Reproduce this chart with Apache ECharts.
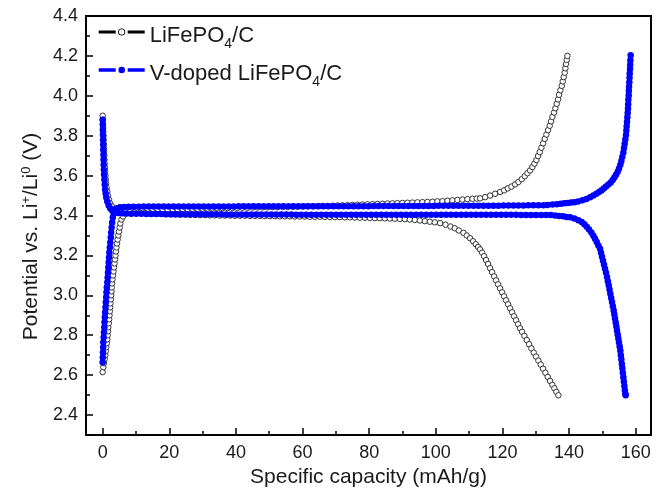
<!DOCTYPE html>
<html><head><meta charset="utf-8">
<script src="https://cdn.jsdelivr.net/npm/echarts@6/dist/echarts.min.js"></script>
<style>html,body{margin:0;padding:0;background:#fff}#c{width:666px;height:492px}</style>
</head><body><div id="c"></div>
<script>
const xMajorTicks = [0, 20, 40, 60, 80, 100, 120, 140, 160];
const xMinorTicks = [10, 30, 50, 70, 90, 110, 130, 150];
const yMajorTicks = [2.4, 2.6, 2.8, 3.0, 3.2, 3.4, 3.6, 3.8, 4.0, 4.2, 4.4];
const yMinorTicks = [2.5, 2.7, 2.9, 3.1, 3.3, 3.5, 3.7, 3.9, 4.1, 4.3];
const seriesNames = ['LiFePO4/C', 'V-doped LiFePO4/C'];

// LiFePO4/C charge branch [capacity, potential]
const lfpCharge = [
[0.0,2.615],[0.2,2.64],[0.4,2.66],[0.6,2.68],[0.8,2.70],[0.95,2.72],[1.1,2.74],[1.25,2.76],[1.4,2.78],[1.5,2.80],
[1.6,2.82],[1.7,2.84],[1.85,2.86],[1.95,2.88],[2.05,2.90],[2.15,2.92],[2.25,2.94],[2.35,2.96],[2.45,2.98],[2.55,3.00],
[2.65,3.02],[2.72,3.04],[2.8,3.06],[2.95,3.08],[3.1,3.10],[3.25,3.12],[3.4,3.14],[3.55,3.16],[3.7,3.18],[3.85,3.20],
[4.0,3.22],[4.15,3.24],[4.3,3.26],[4.5,3.28],[4.7,3.30],[4.9,3.32],[5.1,3.34],[5.3,3.36],[5.65,3.38],[6.1,3.395],
[6.7,3.41],[7.6,3.42],
[9.0,3.424],[10.5,3.426],[12.0,3.427],[13.5,3.428],[15.0,3.429],[16.5,3.430],[18.0,3.430],[19.5,3.431],[21.0,3.432],[22.5,3.432],
[24.0,3.433],[25.5,3.433],[27.0,3.434],[28.5,3.434],[30.0,3.435],[31.5,3.435],[33.0,3.436],[34.5,3.436],[36.0,3.437],[37.5,3.437],
[39.0,3.438],[40.5,3.438],[42.0,3.439],[43.5,3.439],[45.0,3.440],[46.5,3.440],[48.0,3.441],[49.5,3.441],[51.0,3.442],[52.5,3.442],
[54.0,3.443],[55.5,3.443],[57.0,3.444],[58.5,3.444],[60.0,3.445],[61.5,3.446],[63.0,3.446],[64.5,3.447],[66.0,3.448],[67.5,3.448],
[69.0,3.449],[70.5,3.450],[72.0,3.451],[73.5,3.452],[75.0,3.453],[76.5,3.454],[78.0,3.455],[79.5,3.456],[81.0,3.457],[82.5,3.458],
[84.0,3.459],[85.5,3.460],[87.0,3.461],[88.5,3.462],[90.0,3.463],[91.5,3.464],[93.0,3.465],[94.5,3.466],[96.0,3.467],[97.5,3.468],
[99.0,3.469],[100.5,3.471],[102.0,3.472],[103.5,3.474],[105.0,3.476],[106.5,3.478],[108.0,3.480],[109.5,3.482],[111.0,3.484],[112.3,3.485],
[113.3,3.486],[114.8,3.492],[116.3,3.500],[117.8,3.509],[119.3,3.518],[120.5,3.526],[121.6,3.536],[122.7,3.545],[123.8,3.556],[124.8,3.568],
[125.8,3.582],[126.7,3.597],[127.5,3.612],[128.3,3.626],[129.0,3.643],[129.6,3.660],[130.2,3.678],[130.7,3.698],[131.2,3.718],[131.7,3.740],
[132.2,3.762],[132.7,3.784],[133.2,3.806],[133.7,3.828],[134.2,3.850],[134.6,3.872],[135.0,3.894],[135.5,3.916],[135.9,3.938],[136.3,3.960],
[136.7,3.982],[137.0,4.005],[137.4,4.028],[137.8,4.050],[138.1,4.072],[138.4,4.094],[138.7,4.116],[138.9,4.138],[139.1,4.160],[139.3,4.180],
[139.5,4.200]
];

// LiFePO4/C discharge branch
const lfpDischarge = [
[0.0,3.90],[0.05,3.88],[0.1,3.86],[0.15,3.84],[0.2,3.82],[0.25,3.80],[0.3,3.78],[0.35,3.76],[0.4,3.74],[0.45,3.72],
[0.5,3.70],[0.55,3.68],[0.6,3.66],[0.7,3.64],[0.75,3.62],[0.85,3.60],[0.95,3.58],[1.05,3.56],[1.2,3.54],[1.4,3.52],
[1.6,3.50],[1.9,3.48],[2.3,3.46],[2.8,3.445],[3.5,3.432],[4.4,3.424],[5.5,3.420],[6.8,3.418],[8.2,3.417],
[9.7,3.415],[11.2,3.414],[12.7,3.413],[14.2,3.411],[15.7,3.410],[17.2,3.409],[18.7,3.407],[20.2,3.406],[21.7,3.405],[23.2,3.404],
[24.7,3.404],[26.2,3.403],[27.7,3.403],[29.2,3.402],[30.7,3.402],[32.2,3.401],[33.7,3.401],[35.2,3.400],[36.7,3.400],[38.2,3.400],
[39.7,3.399],[41.2,3.399],[42.7,3.399],[44.2,3.398],[45.7,3.398],[47.2,3.398],[48.7,3.397],[50.2,3.397],[51.7,3.397],[53.2,3.396],
[54.7,3.396],[56.2,3.396],[57.7,3.395],[59.2,3.395],[60.7,3.395],[62.2,3.394],[63.7,3.394],[65.2,3.394],[66.7,3.393],[68.2,3.393],
[69.7,3.392],[71.2,3.392],[72.7,3.391],[74.2,3.391],[75.7,3.390],[77.2,3.389],[78.7,3.389],[80.2,3.388],[81.7,3.387],[83.2,3.387],
[84.7,3.386],[86.2,3.385],[87.7,3.384],[89.2,3.383],[90.7,3.382],[92.2,3.380],[93.7,3.378],[95.2,3.375],[96.7,3.372],[98.2,3.369],
[99.7,3.366],[101.3,3.362],[102.9,3.354],[104.4,3.345],[105.7,3.336],[106.9,3.325],[108.3,3.313],[109.3,3.300],[110.3,3.286],[111.2,3.271],
[112.0,3.256],[112.7,3.242],[113.3,3.230],[113.9,3.214],[114.5,3.196],[115.1,3.177],[115.7,3.157],[116.3,3.136],[116.9,3.116],[117.5,3.095],
[118.1,3.075],[118.7,3.055],[119.3,3.035],[119.9,3.015],[120.5,2.995],[121.1,2.975],[121.7,2.955],[122.3,2.935],[122.9,2.915],[123.5,2.895],
[124.1,2.875],[124.7,2.855],[125.3,2.835],[125.9,2.817],[126.6,2.797],[127.3,2.776],[128.0,2.755],[128.7,2.734],[129.4,2.713],[130.1,2.693],
[130.8,2.673],[131.5,2.653],[132.2,2.632],[132.9,2.612],[133.6,2.591],[134.3,2.571],[135.0,2.551],[135.6,2.534],[136.2,2.516],[136.8,2.499]
];

// V-doped LiFePO4/C charge branch
const vCharge = [
[0.0,2.665],[0.05,2.69],[0.1,2.715],[0.15,2.74],[0.2,2.765],[0.3,2.79],[0.4,2.815],[0.5,2.84],[0.55,2.865],[0.65,2.89],
[0.75,2.915],[0.85,2.94],[0.95,2.965],[1.05,2.99],[1.15,3.015],[1.25,3.04],[1.4,3.065],[1.5,3.09],[1.6,3.115],[1.7,3.14],
[1.8,3.165],[1.9,3.19],[2.0,3.215],[2.15,3.24],[2.3,3.265],[2.45,3.29],[2.55,3.315],[2.7,3.34],[2.85,3.365],[3.05,3.39],
[3.3,3.41],[3.7,3.428],[4.3,3.437],[5.2,3.441],[6.4,3.443],[7.8,3.444],
[9.3,3.444],[10.8,3.444],[12.3,3.445],[13.8,3.445],[15.3,3.445],[16.8,3.445],[18.3,3.445],[19.8,3.445],[21.3,3.445],[22.8,3.445],
[24.3,3.445],[25.8,3.445],[27.3,3.445],[28.8,3.445],[30.3,3.445],[31.8,3.445],[33.3,3.445],[34.8,3.445],[36.3,3.445],[37.8,3.445],
[39.3,3.445],[40.8,3.446],[42.3,3.446],[43.8,3.446],[45.3,3.446],[46.8,3.446],[48.3,3.446],[49.8,3.446],[51.3,3.446],[52.8,3.446],
[54.3,3.446],[55.8,3.446],[57.3,3.446],[58.8,3.446],[60.3,3.447],[61.8,3.447],[63.3,3.447],[64.8,3.447],[66.3,3.447],[67.8,3.447],
[69.3,3.447],[70.8,3.447],[72.3,3.447],[73.8,3.447],[75.3,3.447],[76.8,3.447],[78.3,3.447],[79.8,3.447],[81.3,3.448],[82.8,3.448],
[84.3,3.448],[85.8,3.448],[87.3,3.448],[88.8,3.448],[90.3,3.448],[91.8,3.448],[93.3,3.448],[94.8,3.448],[96.3,3.448],[97.8,3.448],
[99.3,3.448],[100.8,3.449],[102.3,3.449],[103.8,3.449],[105.3,3.449],[106.8,3.449],[108.3,3.449],[109.8,3.449],[111.3,3.449],[112.8,3.449],
[114.3,3.449],[115.8,3.449],[117.3,3.449],[118.8,3.449],[120.3,3.450],[121.8,3.450],[123.3,3.450],[124.8,3.450],[126.3,3.450],[127.8,3.451],
[129.3,3.451],[130.8,3.452],[132.3,3.452],[133.5,3.453],[135.0,3.455],[136.3,3.457],[137.5,3.459],[138.6,3.461],[139.6,3.463],[140.6,3.465],
[141.6,3.467],[142.7,3.470],[144.0,3.476],[145.2,3.483],[146.3,3.491],[147.3,3.500],[148.2,3.509],[149.0,3.518],[149.7,3.526],[150.4,3.535],
[151.1,3.545],[151.8,3.555],[152.5,3.566],[153.1,3.578],[153.6,3.590],[154.1,3.604],[154.6,3.620],[155.0,3.636],[155.4,3.654],[155.7,3.673],
[156.0,3.694],[156.3,3.716],[156.5,3.738],[156.7,3.760],[156.9,3.782],[157.1,3.804],[157.2,3.826],[157.3,3.848],[157.4,3.870],[157.5,3.892],
[157.6,3.914],[157.7,3.936],[157.75,3.958],[157.8,3.980],[157.9,4.002],[157.95,4.024],[158.0,4.046],[158.1,4.068],[158.15,4.090],[158.2,4.112],
[158.3,4.134],[158.35,4.156],[158.4,4.178],[158.5,4.203]
];

// V-doped LiFePO4/C discharge branch
const vDischarge = [
[0.0,3.88],[0.03,3.855],[0.06,3.83],[0.09,3.805],[0.12,3.78],[0.15,3.755],[0.18,3.73],[0.22,3.705],[0.26,3.68],[0.3,3.655],
[0.36,3.63],[0.43,3.605],[0.52,3.58],[0.62,3.555],[0.75,3.53],[0.9,3.51],[1.1,3.49],[1.4,3.47],[1.8,3.45],[2.3,3.435],
[2.9,3.424],[3.7,3.417],[4.7,3.413],[5.9,3.411],[7.2,3.410],[8.6,3.409],
[10.1,3.409],[11.6,3.409],[13.1,3.408],[14.6,3.408],[16.1,3.408],[17.6,3.408],[19.1,3.407],[20.6,3.407],[22.1,3.407],[23.6,3.407],
[25.1,3.407],[26.6,3.406],[28.1,3.406],[29.6,3.406],[31.1,3.406],[32.6,3.406],[34.1,3.406],[35.6,3.406],[37.1,3.405],[38.6,3.405],
[40.1,3.405],[41.6,3.405],[43.1,3.405],[44.6,3.405],[46.1,3.405],[47.6,3.405],[49.1,3.405],[50.6,3.405],[52.1,3.405],[53.6,3.405],
[55.1,3.405],[56.6,3.405],[58.1,3.404],[59.6,3.404],[61.1,3.404],[62.6,3.404],[64.1,3.404],[65.6,3.404],[67.1,3.404],[68.6,3.404],
[70.1,3.404],[71.6,3.404],[73.1,3.404],[74.6,3.404],[76.1,3.404],[77.6,3.404],[79.1,3.404],[80.6,3.404],[82.1,3.404],[83.6,3.404],
[85.1,3.404],[86.6,3.404],[88.1,3.404],[89.6,3.404],[91.1,3.404],[92.6,3.404],[94.1,3.404],[95.6,3.404],[97.1,3.404],[98.6,3.404],
[100.1,3.404],[101.6,3.404],[103.1,3.404],[104.6,3.404],[106.1,3.404],[107.6,3.404],[109.1,3.404],[110.6,3.404],[112.1,3.404],[113.6,3.404],
[115.1,3.404],[116.6,3.404],[118.1,3.404],[119.6,3.404],[121.1,3.404],[122.6,3.404],[124.1,3.404],[125.6,3.403],[127.1,3.403],[128.6,3.403],
[130.1,3.403],[131.6,3.403],[133.1,3.403],[134.5,3.402],[135.8,3.400],[137.0,3.398],[138.2,3.396],[139.3,3.393],[140.3,3.391],[141.6,3.385],
[142.8,3.376],[143.8,3.367],[144.6,3.356],[145.3,3.344],[146.0,3.330],[146.7,3.315],[147.3,3.299],[147.8,3.284],[148.3,3.267],[148.8,3.250],
[149.3,3.233],[149.6,3.213],[149.9,3.193],[150.2,3.173],[150.5,3.153],[150.8,3.133],[151.1,3.113],[151.4,3.092],[151.65,3.071],[151.9,3.050],
[152.15,3.029],[152.4,3.008],[152.65,2.987],[152.9,2.966],[153.15,2.945],[153.4,2.924],[153.6,2.904],[153.8,2.884],[154.0,2.864],[154.2,2.844],
[154.4,2.824],[154.6,2.804],[154.8,2.784],[155.0,2.764],[155.2,2.744],[155.4,2.722],[155.55,2.700],[155.7,2.678],[155.85,2.656],[156.0,2.634],
[156.15,2.612],[156.3,2.590],[156.45,2.568],[156.6,2.546],[156.75,2.524],[156.9,2.507],[157.0,2.499]
];

const FONT = '"Liberation Sans", Arial, Helvetica, sans-serif';
const TXT = '#1a1a1a';
const BLUE = '#0000ff';

const corners = 'M0 0 L0.01 0 L0 0.01 Z M46 14 L45.99 14 L46 13.99 Z ';
const iconBlack = 'path://' + corners +
  'M0 5.6 L17 5.6 L17 8.4 L0 8.4 Z M29 5.6 L46 5.6 L46 8.4 L29 8.4 Z ' +
  'M26.6 7 A3.6 3.6 0 1 0 19.4 7 A3.6 3.6 0 1 0 26.6 7 Z ' +
  'M25.7 7 A2.7 2.7 0 1 1 20.3 7 A2.7 2.7 0 1 1 25.7 7 Z';
const iconBlue = 'path://' + corners +
  'M0 5.3 L17 5.3 L17 8.7 L0 8.7 Z M29 5.3 L46 5.3 L46 8.7 L29 8.7 Z ' +
  'M26.3 7 A3.3 3.3 0 1 0 19.7 7 A3.3 3.3 0 1 0 26.3 7 Z';

const chart = echarts.init(document.getElementById('c'), null, {renderer: 'canvas'});

function valueAxis(extra) {
  return Object.assign({
    type: 'value',
    splitLine: {show: false},
    axisLine: {show: true, onZero: false, lineStyle: {color: '#000', width: 2}},
  }, extra);
}

const blackStyle = {
  type: 'scatter', name: seriesNames[0], symbol: 'circle', symbolSize: 5.5,
  itemStyle: {color: '#fff', borderColor: '#333', borderWidth: 1, opacity: 1},
  silent: true, z: 2
};
const blueStyle = {
  type: 'line', name: seriesNames[1], symbol: 'circle', symbolSize: 6.5, showSymbol: true, showAllSymbol: true,
  itemStyle: {color: BLUE}, lineStyle: {color: BLUE, width: 4.5}, silent: true, z: 3
};

chart.setOption({
  animation: false,
  backgroundColor: '#fff',
  textStyle: {fontFamily: FONT},
  grid: {left: 86, right: 15, top: 16, bottom: 57, show: true, borderColor: '#000', borderWidth: 2, containLabel: false, outerBoundsMode: 'none'},
  legend: {
    orient: 'vertical', left: 98.7, top: 21, padding: 0,
    itemWidth: 46, itemHeight: 14, itemGap: 8,
    selectedMode: false,
    data: [
      {name: seriesNames[0], icon: iconBlack, itemStyle: {color: '#000', borderColor: '#000', borderWidth: 0}},
      {name: seriesNames[1], icon: iconBlue, itemStyle: {color: BLUE, borderColor: BLUE, borderWidth: 0}}
    ],
    formatter: function (name) { return '{t|' + name.replace('O4', 'O}{s|4}{t|') + '}'; },
    textStyle: {
      color: TXT, fontFamily: FONT, fontSize: 22,
      rich: {
        t: {fontSize: 22, lineHeight: 22, padding: [4, 0, 4, 0], verticalAlign: 'top', color: TXT, fontFamily: FONT},
        s: {fontSize: 14, lineHeight: 14, padding: [15.8, 0, 0, 0], verticalAlign: 'top', color: TXT, fontFamily: FONT}
      }
    }
  },
  xAxis: [
    valueAxis({
      min: -5, max: 164.6, position: 'bottom',
      axisTick: {show: true, inside: true, length: 7, customValues: xMajorTicks, lineStyle: {color: '#000', width: 1.5}},
      axisLabel: {show: true, customValues: xMajorTicks, fontSize: 18, color: TXT, margin: 9, fontFamily: FONT},
      name: 'Specific capacity (mAh/g)', nameLocation: 'middle', nameGap: 31,
      nameTextStyle: {fontSize: 21, color: TXT, fontFamily: FONT}
    }),
    valueAxis({
      min: -5, max: 164.6, position: 'bottom',
      axisLine: {show: false, onZero: false},
      axisTick: {show: true, inside: true, length: 4, customValues: xMinorTicks, lineStyle: {color: '#000', width: 1.5}},
      axisLabel: {show: false}
    })
  ],
  yAxis: [
    valueAxis({
      min: 2.3, max: 4.4, position: 'left',
      axisTick: {show: true, inside: true, length: 7, customValues: yMajorTicks, lineStyle: {color: '#000', width: 1.5}},
      axisLabel: {show: true, customValues: yMajorTicks, fontSize: 18, color: TXT, margin: 8, fontFamily: FONT,
        formatter: function (v) { return Number(v).toFixed(1); }},
      name: '{t|Potential vs. Li}{p|+}{t|/Li}{p|0}{e| (V)}', nameLocation: 'middle', nameGap: 46, nameRotate: 90,
      nameTextStyle: {
        fontSize: 21, color: TXT, fontFamily: FONT,
        rich: {
          t: {fontSize: 21, lineHeight: 21, padding: [5, 0, 0, 0], verticalAlign: 'top', color: TXT, fontFamily: FONT},
          e: {fontSize: 21, lineHeight: 21, padding: [5, 22, 0, 0], verticalAlign: 'top', color: TXT, fontFamily: FONT},
          p: {fontSize: 13, lineHeight: 13, padding: [3.5, 0, 0, 0], verticalAlign: 'top', color: TXT, fontFamily: FONT}
        }
      }
    }),
    valueAxis({
      min: 2.3, max: 4.4, position: 'left',
      axisLine: {show: false, onZero: false},
      axisTick: {show: true, inside: true, length: 4, customValues: yMinorTicks, lineStyle: {color: '#000', width: 1.5}},
      axisLabel: {show: false}
    })
  ],
  series: [
    Object.assign({data: lfpCharge}, blackStyle),
    Object.assign({data: lfpDischarge}, blackStyle),
    Object.assign({data: vCharge}, blueStyle),
    Object.assign({data: vDischarge}, blueStyle)
  ]
});
</script>
</body></html>
